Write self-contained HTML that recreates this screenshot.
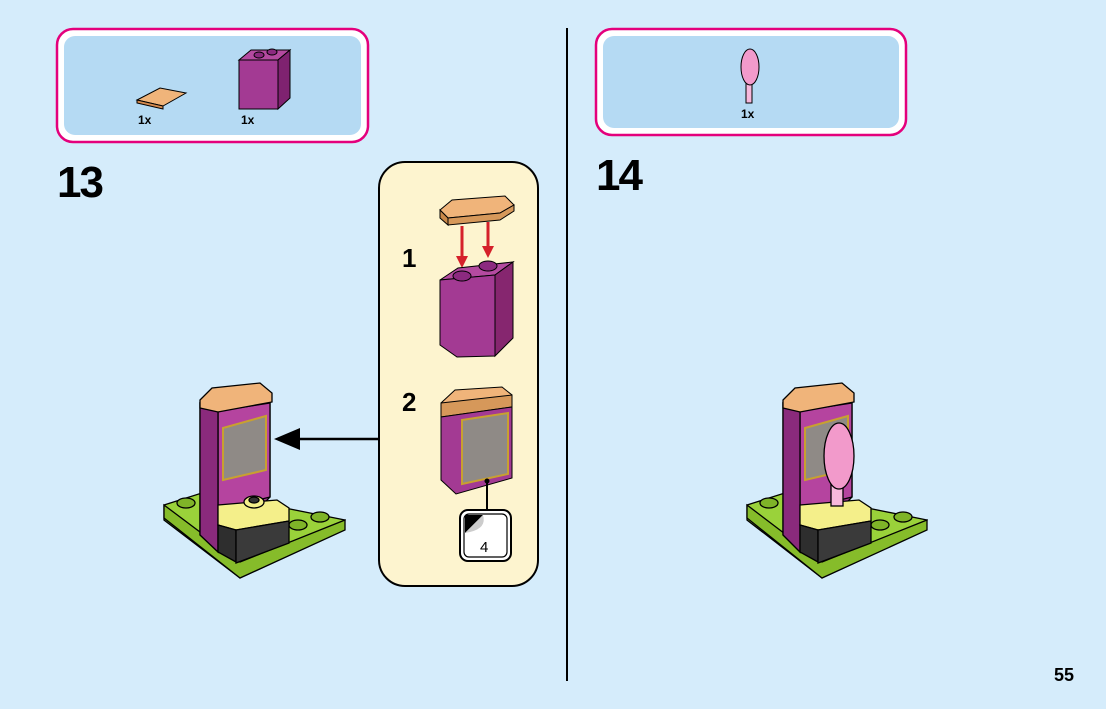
<!DOCTYPE html>
<html><head><meta charset="utf-8"><style>
html,body{margin:0;padding:0;background:#d5ecfb;}
svg{display:block}
text{font-family:"Liberation Sans",Arial,sans-serif;font-weight:bold;}
</style></head><body>
<svg width="1106" height="709" viewBox="0 0 1106 709" xmlns="http://www.w3.org/2000/svg">
<rect width="1106" height="709" fill="#d5ecfb"/>
<!-- parts box 13 -->
<rect x="57" y="29" width="311" height="113" rx="16" fill="#fff" stroke="#e4007c" stroke-width="2.5"/>
<rect x="64" y="36" width="297" height="99" rx="11" fill="#b5daf3"/>
<!-- small tile -->
<polygon points="137,100 160,88 186,93 163,106" fill="#f0b47a" stroke="#000" stroke-width="1"/>
<polygon points="137,100 163,106 163,109 137,103" fill="#d58a4e" stroke="#000" stroke-width="1"/>
<text x="138" y="124" font-size="12">1x</text>
<!-- purple brick -->
<polygon points="239,60 251,50 290,50 278,60" fill="#b44aa0" stroke="#000"/>
<rect x="239" y="60" width="39" height="49" fill="#a33a93" stroke="#000"/>
<polygon points="278,60 290,50 290,98 278,109" fill="#7f2270" stroke="#000"/>
<ellipse cx="259" cy="55" rx="5" ry="3" fill="#8c2a80" stroke="#000"/>
<ellipse cx="272" cy="52" rx="5" ry="3" fill="#8c2a80" stroke="#000"/>
<text x="241" y="124" font-size="12">1x</text>

<text x="57" y="197" font-size="44" letter-spacing="-2">13</text>

<!-- divider -->
<line x1="567" y1="28" x2="567" y2="681" stroke="#000" stroke-width="2"/>

<!-- callout -->
<rect x="379" y="162" width="159" height="424" rx="26" fill="#fdf4cf" stroke="#000" stroke-width="2"/>
<text x="402" y="267" font-size="26">1</text>
<text x="402" y="411" font-size="26">2</text>
<!-- step1 tile -->
<polygon points="440,210 452,200 505,196 514,205 500,213 448,218" fill="#f0b47a" stroke="#000"/>
<polygon points="440,210 448,218 448,225 440,218" fill="#c98748" stroke="#000"/>
<polygon points="448,218 500,213 514,205 514,211 500,220 448,225" fill="#d6985a" stroke="#000"/>
<line x1="462" y1="226" x2="462" y2="262" stroke="#d5202a" stroke-width="3"/>
<polygon points="456,256 468,256 462,268" fill="#d5202a"/>
<line x1="488" y1="222" x2="488" y2="252" stroke="#d5202a" stroke-width="3"/>
<polygon points="482,246 494,246 488,258" fill="#d5202a"/>
<polygon points="440,280 458,268 513,262 495,275" fill="#b44aa0" stroke="#000"/>
<polygon points="440,280 495,275 495,356 457,357 440,345" fill="#a33a93" stroke="#000"/>
<polygon points="495,275 513,262 513,338 495,356" fill="#86266f" stroke="#000"/>
<ellipse cx="462" cy="276" rx="9" ry="5" fill="#8c2a80" stroke="#000"/>
<ellipse cx="488" cy="266" rx="9" ry="5" fill="#8c2a80" stroke="#000"/>
<!-- step2 -->
<polygon points="441,403 455,390 502,387 512,395 505,403 445,410" fill="#f0b47a" stroke="#000"/>
<polygon points="441,403 512,395 512,407 441,417" fill="#d6985a" stroke="#000"/>
<polygon points="441,417 512,407 512,478 456,494 441,480" fill="#a33a93" stroke="#000"/>
<polygon points="462,420 508,413 508,474 462,484" fill="#8f8a86" stroke="#c8a030" stroke-width="2"/>
<line x1="487" y1="480" x2="487" y2="512" stroke="#000" stroke-width="2"/>
<circle cx="487" cy="481" r="2.5" fill="#000"/>
<rect x="460" y="510" width="51" height="51" rx="8" fill="#fff" stroke="#000" stroke-width="2"/>
<rect x="464" y="514" width="43" height="43" rx="5" fill="#fff" stroke="#000" stroke-width="1.2"/>
<polygon points="465,515 483,515 465,533" fill="#000"/>
<path d="M483,515 Q487,528 470,532 L465,533 Z" fill="#ccc"/>
<text x="480" y="552" font-size="15" font-weight="normal" style="font-weight:normal">4</text>

<!-- arrow -->
<line x1="379" y1="439" x2="298" y2="439" stroke="#000" stroke-width="2.5"/>
<polygon points="274,439 300,428 300,450" fill="#000"/>

<!-- model 13 -->
<g stroke="#000" stroke-width="1.3">
<polygon points="164,505 205,492 345,520 344,530 240,578 164,520" fill="#9ad23a"/>
<polygon points="164,505 240,562 345,520 345,530 240,578 164,518" fill="#86bc2a"/>
<ellipse cx="186" cy="503" rx="9" ry="5" fill="#7fb428"/>
<ellipse cx="320" cy="517" rx="9" ry="5" fill="#7fb428"/>
<ellipse cx="298" cy="525" rx="9" ry="5" fill="#7fb428"/>
<polygon points="200,403 270,403 270,497 218,552 200,535" fill="#a33a93"/>
<polygon points="218,411 270,403 270,497 218,510" fill="#b5449f"/>
<polygon points="200,403 218,411 218,552 200,535" fill="#8a2a7c"/>
<polygon points="223,428 266,416 266,470 223,480" fill="#8f8a86" stroke="#c8a030" stroke-width="2"/>
<polygon points="200,400 212,388 260,383 272,393 272,402 218,412 200,408" fill="#f0b47a"/>
<polygon points="218,505 277,500 289,508 289,521 236,530 218,525" fill="#f4ef8a"/>
<polygon points="218,525 236,530 236,562 218,552" fill="#2e2e2e"/>
<polygon points="236,530 289,521 289,543 236,563" fill="#3a3a3a"/>
<ellipse cx="254" cy="502" rx="10" ry="6" fill="#f4ef8a"/>
<ellipse cx="254" cy="500" rx="5" ry="3" fill="#333"/>
</g>

<!-- parts box 14 -->
<rect x="596" y="29" width="310" height="106" rx="16" fill="#fff" stroke="#e4007c" stroke-width="2.5"/>
<rect x="603" y="36" width="296" height="92" rx="11" fill="#b5daf3"/>
<rect x="746" y="82" width="6" height="21" fill="#f7b8dc" stroke="#000"/>
<ellipse cx="750" cy="67" rx="9" ry="18" fill="#f29acb" stroke="#000"/>
<text x="741" y="118" font-size="12">1x</text>
<text x="596" y="190" font-size="44" letter-spacing="-2">14</text>

<!-- model 14 -->
<g stroke="#000" stroke-width="1.3">
<polygon points="747,505 788,492 927,520 926,530 822,578 747,520" fill="#9ad23a"/>
<polygon points="747,505 822,562 927,520 927,530 822,578 747,518" fill="#86bc2a"/>
<ellipse cx="769" cy="503" rx="9" ry="5" fill="#7fb428"/>
<ellipse cx="903" cy="517" rx="9" ry="5" fill="#7fb428"/>
<ellipse cx="880" cy="525" rx="9" ry="5" fill="#7fb428"/>
<polygon points="783,403 852,403 852,497 800,552 783,535" fill="#a33a93"/>
<polygon points="800,411 852,403 852,497 800,510" fill="#b5449f"/>
<polygon points="783,403 800,411 800,552 783,535" fill="#8a2a7c"/>
<polygon points="805,428 848,416 848,470 805,480" fill="#8f8a86" stroke="#c8a030" stroke-width="2"/>
<polygon points="783,400 795,388 842,383 854,393 854,402 800,412 783,408" fill="#f0b47a"/>
<polygon points="800,505 859,500 871,508 871,521 818,530 800,525" fill="#f4ef8a"/>
<polygon points="800,525 818,530 818,562 800,552" fill="#2e2e2e"/>
<polygon points="818,530 871,521 871,543 818,563" fill="#3a3a3a"/>
<rect x="831" y="470" width="12" height="36" fill="#f7b8dc"/>
<ellipse cx="839" cy="456" rx="15" ry="33" fill="#f29acb"/>
</g>

<text x="1054" y="681" font-size="18">55</text>
</svg>
</body></html>
